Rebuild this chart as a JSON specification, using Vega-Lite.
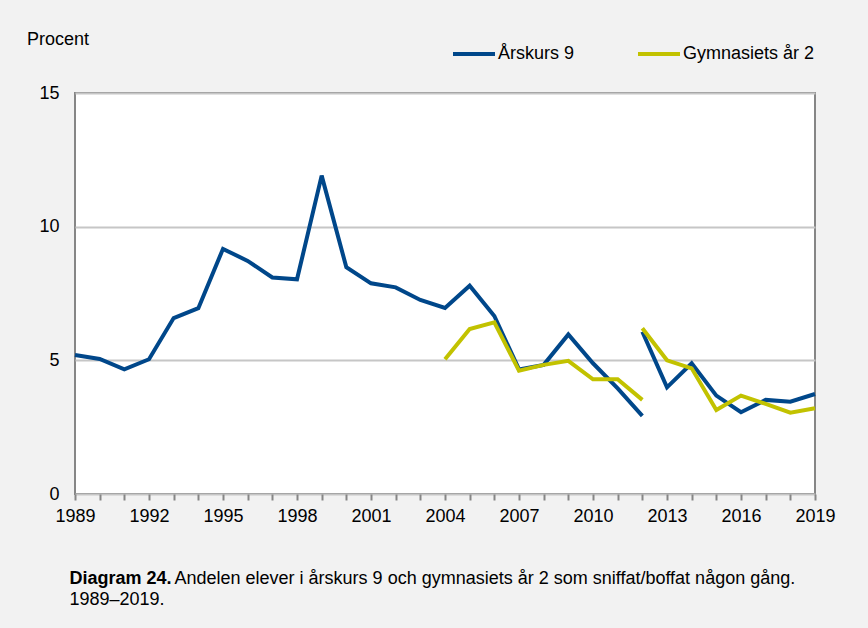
{
  "$schema": "https://vega.github.io/schema/vega-lite/v6.json",
  "width": 740,
  "height": 401,
  "autosize": {"type": "none"},
  "padding": {"left": 75, "top": 93, "right": 53, "bottom": 134},
  "background": "#f2f2f2",
  "config": {
    "font": "Liberation Sans",
    "view": {"fill": "white", "stroke": "#868686", "strokeWidth": 2},
    "title": {"font": "Liberation Sans", "fontSize": 18, "fontWeight": "normal", "color": "black"}
  },
  "title": {"text": "Procent", "anchor": "start", "frame": "group", "orient": "top", "dx": -48, "offset": -18},
  "data": {
    "values": [
      {"year": 1989, "value": 5.2, "series": "Årskurs 9", "seg": "a"},
      {"year": 1990, "value": 5.05, "series": "Årskurs 9", "seg": "a"},
      {"year": 1991, "value": 4.66, "series": "Årskurs 9", "seg": "a"},
      {"year": 1992, "value": 5.04, "series": "Årskurs 9", "seg": "a"},
      {"year": 1993, "value": 6.58, "series": "Årskurs 9", "seg": "a"},
      {"year": 1994, "value": 6.95, "series": "Årskurs 9", "seg": "a"},
      {"year": 1995, "value": 9.17, "series": "Årskurs 9", "seg": "a"},
      {"year": 1996, "value": 8.72, "series": "Årskurs 9", "seg": "a"},
      {"year": 1997, "value": 8.1, "series": "Årskurs 9", "seg": "a"},
      {"year": 1998, "value": 8.03, "series": "Årskurs 9", "seg": "a"},
      {"year": 1999, "value": 11.91, "series": "Årskurs 9", "seg": "a"},
      {"year": 2000, "value": 8.48, "series": "Årskurs 9", "seg": "a"},
      {"year": 2001, "value": 7.88, "series": "Årskurs 9", "seg": "a"},
      {"year": 2002, "value": 7.73, "series": "Årskurs 9", "seg": "a"},
      {"year": 2003, "value": 7.26, "series": "Årskurs 9", "seg": "a"},
      {"year": 2004, "value": 6.96, "series": "Årskurs 9", "seg": "a"},
      {"year": 2005, "value": 7.79, "series": "Årskurs 9", "seg": "a"},
      {"year": 2006, "value": 6.66, "series": "Årskurs 9", "seg": "a"},
      {"year": 2007, "value": 4.66, "series": "Årskurs 9", "seg": "a"},
      {"year": 2008, "value": 4.83, "series": "Årskurs 9", "seg": "a"},
      {"year": 2009, "value": 5.97, "series": "Årskurs 9", "seg": "a"},
      {"year": 2010, "value": 4.89, "series": "Årskurs 9", "seg": "a"},
      {"year": 2011, "value": 3.95, "series": "Årskurs 9", "seg": "a"},
      {"year": 2012, "value": 2.92, "series": "Årskurs 9", "seg": "a"},
      {"year": 2012, "value": 6.07, "series": "Årskurs 9", "seg": "b"},
      {"year": 2013, "value": 3.99, "series": "Årskurs 9", "seg": "b"},
      {"year": 2014, "value": 4.89, "series": "Årskurs 9", "seg": "b"},
      {"year": 2015, "value": 3.68, "series": "Årskurs 9", "seg": "b"},
      {"year": 2016, "value": 3.06, "series": "Årskurs 9", "seg": "b"},
      {"year": 2017, "value": 3.52, "series": "Årskurs 9", "seg": "b"},
      {"year": 2018, "value": 3.45, "series": "Årskurs 9", "seg": "b"},
      {"year": 2019, "value": 3.74, "series": "Årskurs 9", "seg": "b"},
      {"year": 2004, "value": 5.04, "series": "Gymnasiets år 2", "seg": "a"},
      {"year": 2005, "value": 6.17, "series": "Gymnasiets år 2", "seg": "a"},
      {"year": 2006, "value": 6.42, "series": "Gymnasiets år 2", "seg": "a"},
      {"year": 2007, "value": 4.61, "series": "Gymnasiets år 2", "seg": "a"},
      {"year": 2008, "value": 4.83, "series": "Gymnasiets år 2", "seg": "a"},
      {"year": 2009, "value": 4.98, "series": "Gymnasiets år 2", "seg": "a"},
      {"year": 2010, "value": 4.29, "series": "Gymnasiets år 2", "seg": "a"},
      {"year": 2011, "value": 4.29, "series": "Gymnasiets år 2", "seg": "a"},
      {"year": 2012, "value": 3.52, "series": "Gymnasiets år 2", "seg": "a"},
      {"year": 2012, "value": 6.2, "series": "Gymnasiets år 2", "seg": "b"},
      {"year": 2013, "value": 5.0, "series": "Gymnasiets år 2", "seg": "b"},
      {"year": 2014, "value": 4.7, "series": "Gymnasiets år 2", "seg": "b"},
      {"year": 2015, "value": 3.14, "series": "Gymnasiets år 2", "seg": "b"},
      {"year": 2016, "value": 3.68, "series": "Gymnasiets år 2", "seg": "b"},
      {"year": 2017, "value": 3.37, "series": "Gymnasiets år 2", "seg": "b"},
      {"year": 2018, "value": 3.04, "series": "Gymnasiets år 2", "seg": "b"},
      {"year": 2019, "value": 3.21, "series": "Gymnasiets år 2", "seg": "b"}
    ]
  },
  "encoding": {
    "x": {
      "field": "year", "type": "quantitative",
      "scale": {"domain": [1989, 2019], "nice": false, "zero": false},
      "axis": {
        "values": [1989,1990,1991,1992,1993,1994,1995,1996,1997,1998,1999,2000,2001,2002,2003,2004,2005,2006,2007,2008,2009,2010,2011,2012,2013,2014,2015,2016,2017,2018,2019],
        "labelExpr": "(datum.value - 1989) % 3 == 0 ? datum.value : ''",
        "format": "d",
        "grid": false, "domain": false,
        "tickColor": "#868686", "tickWidth": 2, "tickSize": 6,
        "labelFont": "Liberation Sans", "labelFontSize": 18, "labelColor": "black",
        "labelPadding": 7, "labelFlush": false, "labelOverlap": false,
        "title": ["\u200b\u00a0\u00a0\u00a0\u00a0\u00a0\u00a0\u00a0\u00a0\u00a0\u00a0\u00a0\u00a0\u00a0\u00a0\u00a0\u00a0\u00a0\u00a0\u00a0\u00a0\u00a0Andelen elever i årskurs 9 och gymnasiets år 2 som sniffat/boffat någon gång.", "1989–2019."],
        "titleFont": "Liberation Sans", "titleFontSize": 18, "titleFontWeight": "normal", "titleColor": "black",
        "titleX": -6, "titleY": 89, "titleAlign": "left", "titleAnchor": "start", "titleBaseline": "alphabetic", "titleLineHeight": 21
      }
    },
    "y": {
      "field": "value", "type": "quantitative",
      "scale": {"domain": [0, 15], "nice": false},
      "axis": {
        "values": [0, 5, 10, 15],
        "grid": true, "gridColor": "#c6c6c6", "gridWidth": 2,
        "domain": false, "ticks": false,
        "labelFont": "Liberation Sans", "labelFontSize": 18, "labelColor": "black", "labelPadding": 16,
        "title": "Diagram 24.", "titleAngle": 0, "titleFont": "Liberation Sans", "titleFontSize": 18, "titleFontWeight": "bold", "titleColor": "black",
        "titleX": -6, "titleY": 490, "titleAlign": "left", "titleAnchor": "start", "titleBaseline": "alphabetic"
      }
    },
    "color": {
      "field": "series", "type": "nominal",
      "scale": {"domain": ["Årskurs 9", "Gymnasiets år 2"], "range": ["#00478a", "#c2c200"]},
      "legend": {
        "title": null, "orient": "none", "direction": "horizontal",
        "legendX": 376, "legendY": -62,
        "symbolType": "stroke", "symbolSize": 1764, "symbolStrokeWidth": 4,
        "labelFont": "Liberation Sans", "labelFontSize": 18, "labelColor": "black",
        "labelOffset": 1, "columnPadding": 55
      }
    },
    "detail": {"field": "seg", "type": "nominal"}
  },
  "layer": [
    {"transform": [{"filter": "datum.series == 'Årskurs 9'"}], "mark": {"type": "line", "strokeWidth": 4}},
    {"transform": [{"filter": "datum.series == 'Gymnasiets år 2'"}], "mark": {"type": "line", "strokeWidth": 4}}
  ]
}
